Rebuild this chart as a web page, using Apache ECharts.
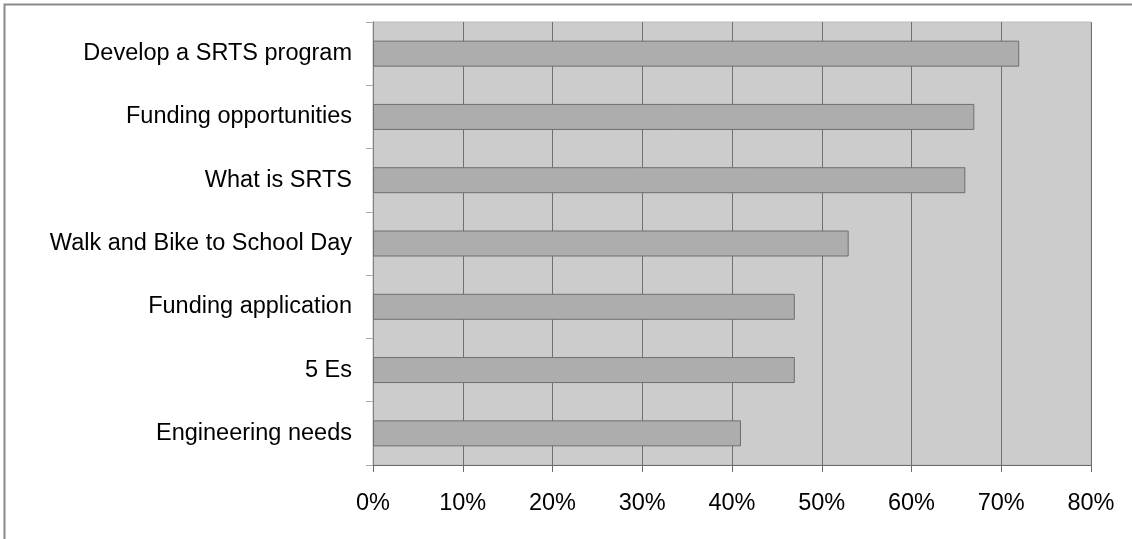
<!DOCTYPE html>
<html>
<head>
<meta charset="utf-8">
<script src="https://cdn.jsdelivr.net/npm/echarts@6/dist/echarts.min.js"></script>
<style>
  html, body { margin: 0; padding: 0; background: #fff; }
  #main { width: 1132px; height: 539px; }
</style>
</head>
<body>
<div id="main"></div>
<script>
// categories listed top to bottom
var topics = ['Develop a SRTS program', 'Funding opportunities', 'What is SRTS',
  'Walk and Bike to School Day', 'Funding application', '5 Es', 'Engineering needs'];
// share of respondents
var shares = [0.72, 0.67, 0.66, 0.53, 0.47, 0.47, 0.41];
var xTicks = [0, 0.1, 0.2, 0.3, 0.4, 0.5, 0.6, 0.7, 0.8];

var myChart = echarts.init(document.getElementById('main'));

var font = 'Liberation Sans, Arial, sans-serif';

myChart.setOption({
  animation: false,
  graphic: [{
    type: 'rect',
    shape: { x: 4.5, y: 4.5, width: 1200, height: 700 },
    style: { fill: 'none', stroke: '#8a8a8a', lineWidth: 2 },
    silent: true
  }],
  grid: {
    left: 373, top: 22, right: 41, bottom: 74,
    show: true,
    backgroundColor: '#cccccc',
    borderColor: '#bdbdbd',
    borderWidth: 1
  },
  xAxis: {
    type: 'value',
    min: xTicks[0],
    max: xTicks[xTicks.length - 1],
    interval: 0.1,
    axisLine: { show: true, lineStyle: { color: '#6a6a6a' } },
    axisTick: { show: true, length: 7, lineStyle: { color: '#6a6a6a' } },
    splitLine: { show: true, lineStyle: { color: '#707070', width: 1 } },
    axisLabel: {
      margin: 27,
      fontSize: 23.5,
      fontFamily: font,
      color: '#000',
      formatter: function (v) { return Math.round(v * 100) + '%'; }
    }
  },
  yAxis: {
    type: 'category',
    inverse: true,
    data: topics,
    axisLine: { show: true, lineStyle: { color: '#808080' } },
    axisTick: { show: true, length: 7, alignWithLabel: false, lineStyle: { color: '#aaaaaa' } },
    splitLine: { show: false },
    axisLabel: {
      margin: 21,
      fontSize: 23.5,
      fontFamily: font,
      color: '#000'
    }
  },
  series: [{
    type: 'bar',
    data: shares,
    barWidth: 26,
    itemStyle: {
      color: '#adadad',
      borderColor: '#6e6e6e',
      borderWidth: 1
    }
  }]
});
</script>
</body>
</html>
